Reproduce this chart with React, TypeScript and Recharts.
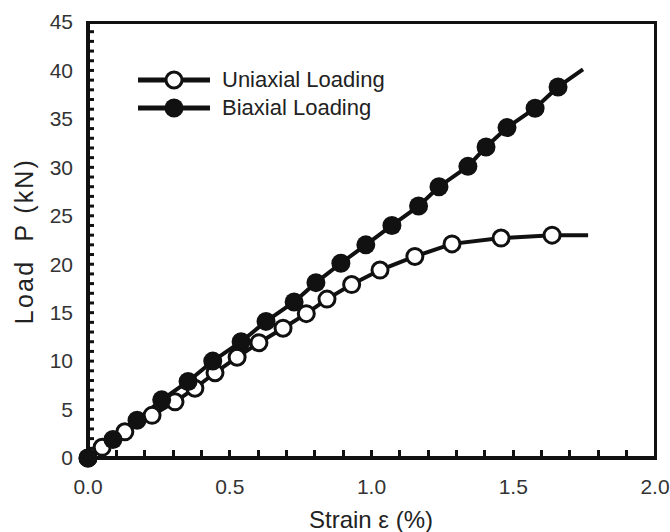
import { Label, Line, LineChart, XAxis, YAxis } from "recharts";

// strain (%) / load (kN); last point of each is the line end (no marker)
const uniStrain = [0, 0.05, 0.13, 0.226, 0.307, 0.377, 0.448, 0.526, 0.603, 0.688, 0.77, 0.843, 0.93, 1.03, 1.153, 1.284, 1.457, 1.637, 1.764];
const uniLoad = [0, 1.1, 2.7, 4.4, 5.8, 7.2, 8.8, 10.4, 11.9, 13.4, 14.9, 16.4, 17.9, 19.4, 20.8, 22.1, 22.7, 23.0, 23.0];

const biStrain = [0, 0.088, 0.173, 0.26, 0.353, 0.44, 0.54, 0.628, 0.727, 0.804, 0.892, 0.98, 1.072, 1.166, 1.238, 1.34, 1.404, 1.478, 1.577, 1.658, 1.746];
const biLoad = [0, 1.9, 3.9, 6.0, 7.9, 10.0, 12.0, 14.1, 16.1, 18.1, 20.1, 22.0, 24.0, 26.0, 28.0, 30.1, 32.1, 34.1, 36.1, 38.3, 40.1];

const xLabels = [0, 0.5, 1.0, 1.5, 2.0];
const yLabels = [0, 5, 10, 15, 20, 25, 30, 35, 40, 45];

// one table on a shared strain axis; each series is null where it has no reading
const rows = (() => {
  const map = new Map<number, { x: number; uni: number | null; bi: number | null }>();
  uniStrain.forEach((x, i) => {
    const r = map.get(x) ?? { x, uni: null, bi: null };
    r.uni = uniLoad[i];
    map.set(x, r);
  });
  biStrain.forEach((x, i) => {
    const r = map.get(x) ?? { x, uni: null, bi: null };
    r.bi = biLoad[i];
    map.set(x, r);
  });
  return [...map.values()].sort((a, b) => a.x - b.x);
})();

const uniEnd = uniStrain[uniStrain.length - 1];
const biEnd = biStrain[biStrain.length - 1];

// minor ticks every 0.1 strain / 1 kN
const xTicks = Array.from({ length: 21 }, (_, i) => i / 10);
const yTicks = Array.from({ length: 46 }, (_, i) => i);

const W = 670;
const H = 532;
const PLOT = { left: 88, top: 22, right: 655, bottom: 458 };
const X_MAX = 2;
const FONT = "'Liberation Sans', Arial, sans-serif";
const INK = "#111";

const XTick = (props: any) => {
  const { x, payload } = props;
  const v = payload.value;
  const major = xLabels.some((l) => Math.abs(l - v) < 1e-6);
  if (!major) return <g />;
  return (
    <text x={x} y={487} dy="0.35em" textAnchor="middle" fontSize={21} fontFamily={FONT} fill="#333">
      {v.toFixed(1)}
    </text>
  );
};

const YTick = (props: any) => {
  const { y, payload } = props;
  const v = payload.value;
  const major = yLabels.includes(v);
  return (
    <g>
      {v > 0 && v < 45 ? (
        <line x1={PLOT.left} x2={PLOT.left + 6} y1={y} y2={y} stroke={INK} strokeWidth={3} />
      ) : null}
      {major ? (
        <text x={PLOT.left - 15} y={y} dy="0.35em" textAnchor="end" fontSize={21} fontFamily={FONT} fill="#333">
          {v}
        </text>
      ) : null}
    </g>
  );
};

const openDot = (props: any) => {
  const { cx, cy, index, payload } = props;
  if (cy == null || payload.uni == null || payload.x === uniEnd) return <g key={`u-${index}`} />;
  return <circle key={`u-${index}`} cx={cx} cy={cy} r={8} fill="#fff" stroke={INK} strokeWidth={3} />;
};

const filledDot = (props: any) => {
  const { cx, cy, index, payload } = props;
  if (cy == null || payload.bi == null || payload.x === biEnd) return <g key={`b-${index}`} />;
  return <circle key={`b-${index}`} cx={cx} cy={cy} r={9.5} fill={INK} stroke="none" />;
};

const legendItems = [
  { name: "Uniaxial Loading", filled: false },
  { name: "Biaxial Loading", filled: true },
];

// plot box border (top, right, bottom) and inward x minor ticks, as plain boxes over the chart
const Frame = () => {
  const px = (v: number) => PLOT.left + (v / X_MAX) * (PLOT.right - PLOT.left);
  return (
    <>
      <div
        style={{
          position: "absolute",
          left: PLOT.left - 2,
          top: PLOT.top - 1.5,
          width: PLOT.right - PLOT.left + 3.5,
          height: PLOT.bottom - PLOT.top + 3.5,
          boxSizing: "border-box",
          borderTop: `3px solid ${INK}`,
          borderRight: `3px solid ${INK}`,
          borderBottom: `4px solid ${INK}`,
          pointerEvents: "none",
        }}
      />
      {xTicks
        .filter((v) => v > 0 && v < X_MAX)
        .map((v) => (
          <div
            key={v}
            style={{
              position: "absolute",
              left: px(v) - 1.5,
              top: PLOT.bottom - 8,
              width: 3,
              height: 8,
              background: INK,
              pointerEvents: "none",
            }}
          />
        ))}
    </>
  );
};

export default function App() {
  return (
    <div style={{ position: "absolute", left: 0, top: 0, width: W, height: H, background: "#fff" }}>
      <LineChart
        width={W}
        height={H}
        data={rows}
        margin={{ top: PLOT.top, right: W - PLOT.right, left: 0, bottom: 0 }}
      >
        <XAxis
          type="number"
          dataKey="x"
          domain={[0, X_MAX]}
          ticks={xTicks}
          interval={0}
          height={H - PLOT.bottom}
          tickLine={false}
          axisLine={{ stroke: INK, strokeWidth: 4 }}
          tick={<XTick />}
        >
          <Label
            content={() => (
              <text x={371} y={520} dy="0.35em" textAnchor="middle" fontSize={24} fontFamily={FONT} fill="#222">
                Strain ε (%)
              </text>
            )}
          />
        </XAxis>
        <YAxis
          type="number"
          domain={[0, 45]}
          ticks={yTicks}
          interval={0}
          width={PLOT.left}
          tickLine={false}
          axisLine={{ stroke: INK, strokeWidth: 4 }}
          tick={<YTick />}
        >
          <Label
            content={() => (
              <text
                x={24}
                y={241}
                dy="0.35em"
                textAnchor="middle"
                fontSize={25}
                letterSpacing={2.2}
                fontFamily={FONT}
                fill="#222"
                transform="rotate(-90 24 241)"
                style={{ whiteSpace: "pre" }}
              >
                {"Load  P (kN)"}
              </text>
            )}
          />
        </YAxis>
        <Line
          dataKey="uni"
          name="Uniaxial Loading"
          connectNulls
          stroke={INK}
          strokeWidth={4}
          dot={openDot}
          activeDot={false}
          isAnimationActive={false}
        />
        <Line
          dataKey="bi"
          name="Biaxial Loading"
          connectNulls
          stroke={INK}
          strokeWidth={4}
          dot={filledDot}
          activeDot={false}
          isAnimationActive={false}
        />
      </LineChart>
      <Frame />
      <div
        style={{
          position: "absolute",
          left: 136,
          top: 66,
          fontFamily: FONT,
          fontSize: 22,
          color: "#222",
        }}
      >
        {legendItems.map((it) => (
          <div key={it.name} style={{ display: "flex", alignItems: "center", height: 28 }}>
            <svg width={76} height={24} style={{ marginRight: 10 }}>
              <line x1={2} x2={74} y1={12} y2={12} stroke={INK} strokeWidth={5} />
              <circle
                cx={38}
                cy={12}
                r={it.filled ? 9.5 : 8}
                fill={it.filled ? INK : "#fff"}
                stroke={it.filled ? "none" : INK}
                strokeWidth={3}
              />
            </svg>
            <span>{it.name}</span>
          </div>
        ))}
      </div>
    </div>
  );
}
